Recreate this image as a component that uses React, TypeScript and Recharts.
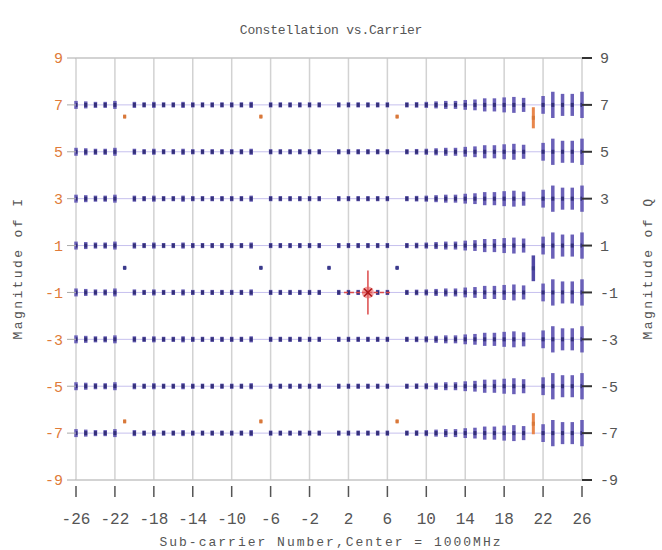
import React from 'react';
import { ScatterChart, Scatter, XAxis, YAxis, CartesianGrid, ReferenceLine, ErrorBar } from 'recharts';

// Sub-carrier numbers carrying data (pilots -21,-7,7,21 and DC 0 excluded)
const carriers = [
  -26, -25, -24, -23, -22, -20, -19, -18, -17, -16, -15, -14, -13, -12, -11, -10, -9, -8,
  -6, -5, -4, -3, -2, -1, 1, 2, 3, 4, 5, 6, 8, 9, 10, 11, 12, 13, 14, 15, 16, 17, 18, 19, 20,
  22, 23, 24, 25, 26,
];
// Half spread of each constellation cluster (magnitude units)
const spreads = [
  0.17, 0.15, 0.13, 0.13, 0.17, 0.13, 0.11, 0.13, 0.11, 0.11, 0.13, 0.11, 0.11, 0.11, 0.11, 0.11, 0.11, 0.13,
  0.11, 0.11, 0.11, 0.11, 0.11, 0.11, 0.11, 0.11, 0.11, 0.11, 0.11, 0.11, 0.11, 0.12, 0.13, 0.15, 0.17, 0.17,
  0.21, 0.23, 0.28, 0.28, 0.32, 0.34, 0.3, 0.38, 0.56, 0.47, 0.47, 0.56,
];
const levels = [7, 5, 3, 1, -1, -3, -5, -7];

const xTicks = [-26, -22, -18, -14, -10, -6, -2, 2, 6, 10, 14, 18, 22, 26];
const yTicks = [-9, -7, -5, -3, -1, 1, 3, 5, 7, 9];

// Pilot sub-carriers (orange)
const pilotCarriers = [-21, -7, 7, 21];
const pilotHigh = [6.5, 6.5, 6.5, 6.45];
const pilotLow = [-6.5, -6.5, -6.5, -6.6];
const pilotSpread = [0.06, 0.06, 0.06, 0.45];

// Near-zero points (blue)
const nullCarriers = [-21, -7, 0, 7, 21];
const nullValues = [0.05, 0.05, 0.05, 0.05, 0.03];
const nullSpread = [0.06, 0.06, 0.06, 0.06, 0.55];

// Cursor marker
const cursorPoints = [{ x: 4, y: -1 }];

const mainData = carriers.flatMap((c, i) => levels.map((l) => ({ x: c, y: l, err: spreads[i] })));
const pilotData = pilotCarriers.flatMap((c, i) => [
  { x: c, y: pilotHigh[i], err: pilotSpread[i] },
  { x: c, y: pilotLow[i], err: pilotSpread[i] },
]);
const nullData = nullCarriers.map((c, i) => ({ x: c, y: nullValues[i], err: nullSpread[i] }));

const FONT = '"Liberation Mono", "DejaVu Sans Mono", monospace';

const DotShape = (color: string) => (props: any) => {
  const { cx, cy } = props;
  if (cx == null || cy == null) return <g />;
  return <rect x={cx - 1.5} y={cy - 2} width={3} height={4} fill={color} />;
};

const CursorShape = (props: any) => {
  const { cx, cy } = props;
  if (cx == null || cy == null) return <g />;
  return (
    <g>
      <line x1={cx - 24} x2={cx + 24} y1={cy} y2={cy} stroke="#dc4a4a" strokeWidth={1.5} strokeDasharray="4 2" />
      <line x1={cx} x2={cx} y1={cy - 22} y2={cy + 22} stroke="#dc4a4a" strokeWidth={1.5} />
      <circle cx={cx} cy={cy} r={6} fill="#e86060" opacity={0.6} />
      <line x1={cx - 4} x2={cx + 4} y1={cy - 4} y2={cy + 4} stroke="#b01818" strokeWidth={1.6} />
      <line x1={cx - 4} x2={cx + 4} y1={cy + 4} y2={cy - 4} stroke="#b01818" strokeWidth={1.6} />
    </g>
  );
};

const XTick = (props: any) => {
  const { x, y, payload } = props;
  return (
    <g>
      <line x1={x} x2={x} y1={y - 2} y2={y + 9} stroke="#555" strokeWidth={1.5} />
      <text x={x} y={y + 36} textAnchor="middle" fill="#555" fontSize={16} fontFamily={FONT}>
        {payload.value}
      </text>
    </g>
  );
};

export default function App() {
  return (
    <div style={{ position: 'absolute', left: 0, top: 0, width: 662, height: 550, background: '#fff', overflow: 'hidden' }}>
      <div
        style={{
          position: 'absolute', left: 0, top: 23, width: 662, textAlign: 'center',
          fontFamily: FONT, fontSize: 13, color: '#555', letterSpacing: -0.2,
        }}
      >
        Constellation vs.Carrier
      </div>
      <div style={{ position: 'absolute', left: 18, top: 268, width: 0, height: 0 }}>
        <div
          style={{
            position: 'absolute', transform: 'translate(-50%, -50%) rotate(-90deg)', whiteSpace: 'nowrap',
            fontFamily: FONT, fontSize: 13, color: '#555', letterSpacing: 2.4,
          }}
        >
          Magnitude of I
        </div>
      </div>
      <div style={{ position: 'absolute', left: 648, top: 268, width: 0, height: 0 }}>
        <div
          style={{
            position: 'absolute', transform: 'translate(-50%, -50%) rotate(-90deg)', whiteSpace: 'nowrap',
            fontFamily: FONT, fontSize: 13, color: '#555', letterSpacing: 2.4,
          }}
        >
          Magnitude of Q
        </div>
      </div>
      <div
        style={{
          position: 'absolute', left: 0, top: 536, width: 662, height: 14, lineHeight: '14px', textAlign: 'center',
          fontFamily: FONT, fontSize: 13, color: '#555', letterSpacing: 2.0,
        }}
      >
        Sub-carrier Number,Center = 1000MHz
      </div>
      <div style={{ position: 'absolute', left: 0, top: 0 }}>
        <ScatterChart width={662} height={550} margin={{ top: 58, right: 30, bottom: 10, left: 36 }}>
          <CartesianGrid horizontal={false} vertical stroke="#d2d2d2" strokeWidth={1.5} />
          <XAxis
            type="number"
            dataKey="x"
            domain={[-26, 26]}
            ticks={xTicks}
            interval={0}
            axisLine={false}
            tickLine={false}
            tick={<XTick />}
            height={60}
            allowDataOverflow
          />
          <YAxis
            type="number"
            dataKey="y"
            domain={[-9, 9]}
            ticks={yTicks}
            interval={0}
            axisLine={false}
            tickLine={{ stroke: '#aaa' }}
            tickSize={9}
            tickMargin={4}
            tick={{ fill: '#e07b39', fontSize: 15, fontFamily: FONT }}
            width={40}
            allowDataOverflow
          />
          <YAxis
            yAxisId="right"
            orientation="right"
            type="number"
            domain={[-9, 9]}
            ticks={yTicks}
            interval={0}
            axisLine={false}
            tickLine={{ stroke: '#333', strokeWidth: 2 }}
            tickSize={10}
            tickMargin={8}
            tick={{ fill: '#555', fontSize: 15, fontFamily: FONT }}
            width={50}
            allowDataOverflow
          />
          <ReferenceLine y={9} stroke="#c4c4c4" strokeWidth={1.5} />
          <ReferenceLine y={-9} stroke="#c4c4c4" strokeWidth={1.5} />
          {levels.map((l) => (
            <ReferenceLine key={l} y={l} stroke="#c6c0ee" strokeWidth={1} />
          ))}
          <Scatter data={mainData} shape={DotShape('#34307a')} isAnimationActive={false}>
            <ErrorBar dataKey="err" direction="y" width={0} strokeWidth={3.5} stroke="#6a60b8" isAnimationActive={false} />
          </Scatter>
          <Scatter data={pilotData} shape={DotShape('#d8783a')} isAnimationActive={false}>
            <ErrorBar dataKey="err" direction="y" width={0} strokeWidth={3} stroke="#e8864c" isAnimationActive={false} />
          </Scatter>
          <Scatter data={nullData} shape={DotShape('#3a3a8a')} isAnimationActive={false}>
            <ErrorBar dataKey="err" direction="y" width={0} strokeWidth={3.5} stroke="#5048a4" isAnimationActive={false} />
          </Scatter>
          <Scatter data={cursorPoints} shape={CursorShape} isAnimationActive={false} />
        </ScatterChart>
      </div>
    </div>
  );
}
